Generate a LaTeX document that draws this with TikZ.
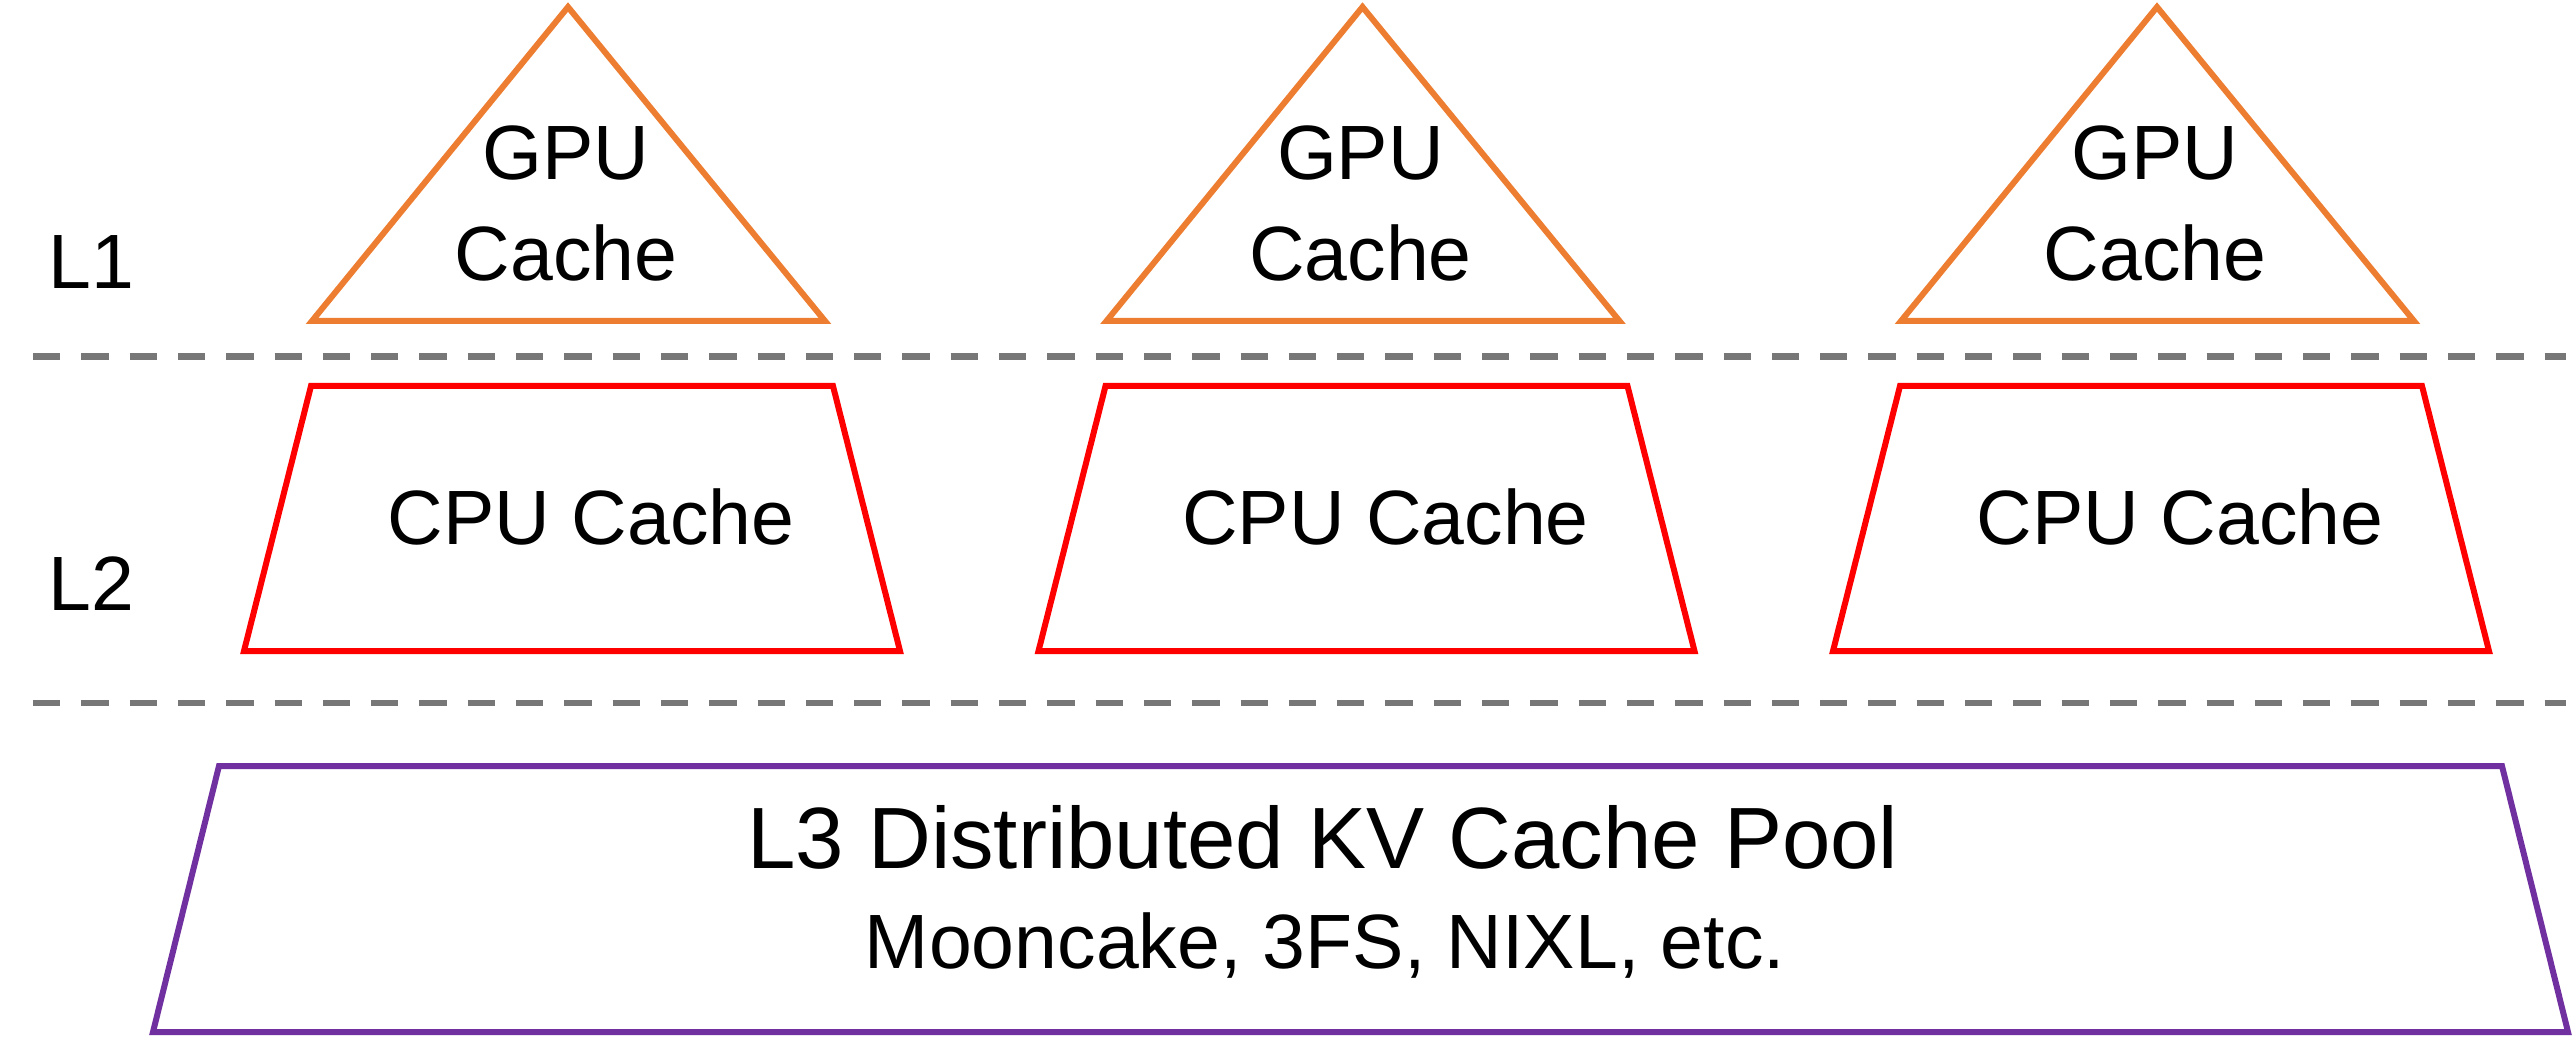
\documentclass[tikz,border=0pt]{standalone}
\usepackage{fontspec}
\setmainfont{Liberation Sans}
\definecolor{gpuorange}{HTML}{ED7D31}
\definecolor{cpured}{HTML}{FF0000}
\definecolor{poolpurple}{HTML}{7030A0}
\definecolor{sepgray}{HTML}{777777}
\begin{document}
\begin{tikzpicture}[x=1pt,y=-1pt,
  gpushape/.style={draw=gpuorange,line width=6pt},
  cpushape/.style={draw=cpured,line width=6pt},
  poolshape/.style={draw=poolpurple,line width=6pt},
  sepline/.style={draw=sepgray,line width=6.5pt,dash pattern=on 27.3pt off 21pt},
  lbl/.style={inner sep=0pt,anchor=base,font=\fontsize{77}{92}\selectfont},
  lvl/.style={inner sep=0pt,anchor=base west,font=\fontsize{77}{92}\selectfont},
  head/.style={inner sep=0pt,anchor=base,font=\fontsize{87}{102}\selectfont}]
\useasboundingbox (0,0) rectangle (2576,1040);
% separators
\draw[sepline] (33,356.5) -- (2566,356.5);
\draw[sepline] (33,703) -- (2566,703);
% level labels
\node[lvl] (lone) at (48,289) {L1};
\node[lvl] (ltwo) at (48,610) {L2};
% GPU and CPU caches
\foreach \i/\dx in {1/0,2/794.5,3/1589}{
  \draw[gpushape] ({568+\dx},7) -- ({312+\dx},321) -- ({825+\dx},321) -- cycle;
  \node[lbl] (gpuA\i) at ({566+\dx},180) {GPU};
  \node[lbl] (gpuB\i) at ({566+\dx},281) {Cache};
  \draw[cpushape] ({311+\dx},386) -- ({833+\dx},386) -- ({900+\dx},651) -- ({244+\dx},651) -- cycle;
  \node[lbl] (cpu\i) at ({591+\dx},544) {CPU Cache};
}
% L3 pool
\draw[poolshape] (219,766) -- (2502,766) -- (2568,1032) -- (153,1032) -- cycle;
\node[head] (poolhead) at (1323,868) {L3 Distributed KV Cache Pool};
\node[lbl] (poolsub) at (1325,968) {Mooncake, 3FS, NIXL, etc.};
\end{tikzpicture}
\end{document}
